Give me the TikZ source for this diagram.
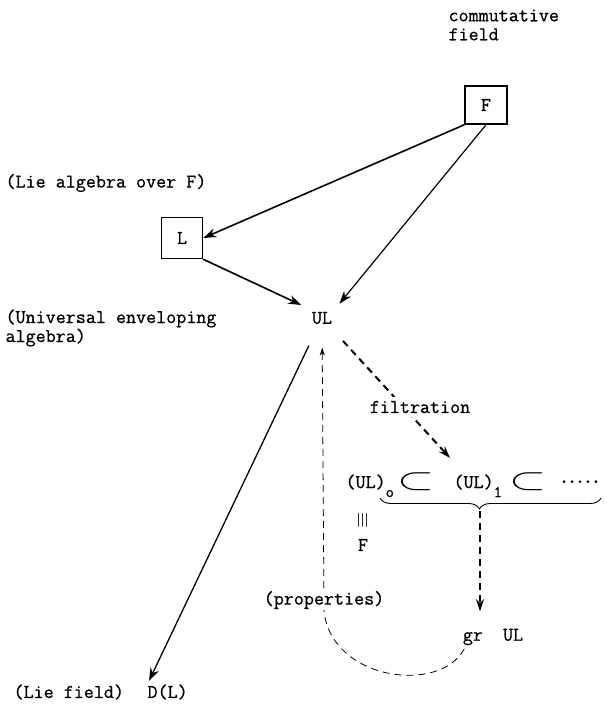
\documentclass[tikz,border=0pt]{standalone}
\usepackage{graphicx}
\usepackage{fontspec}
\usetikzlibrary{arrows.meta,positioning,backgrounds,decorations.pathreplacing}
\newfontfamily\typew[FakeBold=0.7]{Latin Modern Mono}

\newcommand{\incl}{\scalebox{2.3}[1.5]{$\subset$}}
\newcommand{\subs}[1]{\raisebox{-9pt}{\fontsize{16}{16}\selectfont #1}}
\newcommand{\dotrow}{\fontsize{9}{9}\selectfont\textbullet\hspace{3.2pt}\textbullet\hspace{3.2pt}\textbullet\hspace{3.2pt}\textbullet\hspace{3.2pt}\textbullet}

\begin{document}
\begin{tikzpicture}[
    x=1pt, y=-1pt,
    every node/.style={font=\fontsize{19.5}{19}\selectfont\typew},
    box/.style={rectangle, draw, line width=1.6pt, minimum width=42pt, minimum height=38pt},
    arr/.style={-{Stealth[length=13pt,width=9pt]}, line width=1.6pt},
    dasharr/.style={-{Stealth[length=12pt,width=8pt]}, line width=2pt, dash pattern=on 7pt off 5pt},
    thindash/.style={line width=0.8pt, dash pattern=on 7pt off 5pt}
]
\useasboundingbox (0,0) rectangle (606,715);

% upper part
\node[align=left, anchor=west] (comm) at (445,25) {commutative\\field};
\node[box] (fbox) at (486,105) {F};
\node[anchor=west] (lieal) at (2,183) {(Lie algebra over F)};
\node[box, minimum width=41pt, minimum height=41pt] (lbox) at (182,238) {L};
\node[align=left, anchor=west] (uea) at (2,328) {(Universal enveloping\\algebra)};
\node (ul) at (322,318) {UL};

% filtration
\node[fill=white, inner sep=4pt] (filt) at (420,407) {filtration};
\node[anchor=base west] (ul0) at (342,488) {(UL)\subs{o}};
\node (inc1) at (416,482) {\incl};
\node[anchor=base west] (ul1) at (450,488) {(UL)\subs{1}};
\node (inc2) at (528,482) {\incl};
\node (dots) at (580,482) {\dotrow};
\node (eqv) at (363,520) {\rotatebox{90}{$\equiv$}};
\node (fld) at (363,545) {F};
\coordinate (bl) at (380,498);
\coordinate (br) at (601,498);
\coordinate (bracetip) at (480,511);
\draw[decorate, decoration={brace, mirror, amplitude=11pt, aspect=0.45}, line width=0.9pt] (bl) -- (br);

% lower part
\node[fill=white, inner sep=1pt] (props) at (324,600) {(properties)};
\node (gr) at (493,637) {gr\ \ UL};
\node[anchor=west] (dl) at (144,692) {D(L)};
\node[anchor=west] (lief) at (10,692) {(Lie field)};

\begin{scope}[on background layer]
\draw[arr] (fbox.south west) -- (lbox.east);
\draw[arr, line width=1.2pt, shorten >=6pt] (fbox.south) -- (ul.north east);
\draw[arr, shorten >=8pt] (lbox.south east) -- (ul.north west);
\draw[arr, line width=1.3pt, shorten <=20pt] (ul) -- ([xshift=5pt]dl.north west);
\draw[dasharr, shorten <=18pt] (ul) -- ([yshift=13pt]ul1.north west);
\draw[dasharr, shorten >=14pt] (bracetip) -- (bracetip |- gr.north);
\draw[thindash, -{Stealth[length=8pt,width=5pt]}, shorten >=20pt]
    ([xshift=5pt]gr.south west) .. controls (440,695) and (330,680) .. (props.south) -- (ul);
\end{scope}
\end{tikzpicture}
\end{document}
